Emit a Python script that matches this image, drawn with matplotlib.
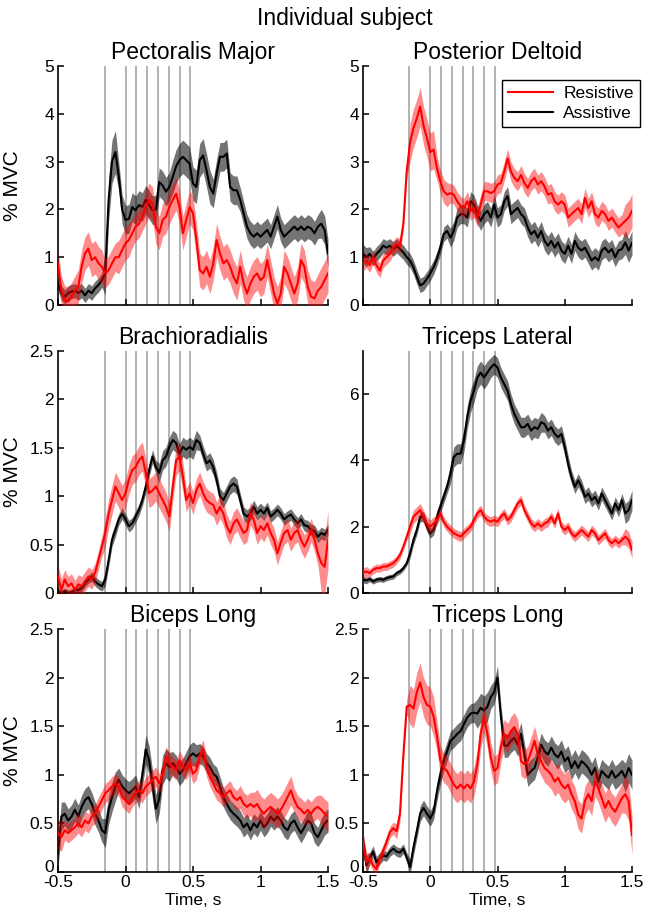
import numpy as np
import matplotlib
matplotlib.use("Agg")
import matplotlib.pyplot as plt
import matplotlib.transforms as mtransforms

plt.rcParams['font.family'] = ['Liberation Sans', 'DejaVu Sans']

# time axis (s), 0.025 s step
t = np.linspace(-0.5, 1.5, 81)

# event markers (s)
events = [-0.155, 0.0, 0.08, 0.16, 0.24, 0.32, 0.40, 0.48]

titles = ['Pectoralis Major', 'Posterior Deltoid', 'Brachioradialis',
          'Triceps Lateral', 'Biceps Long', 'Triceps Long']
ylims = [5, 5, 2.5, 7.3, 2.5, 2.5]
yticks = [[0, 1, 2, 3, 4, 5], [0, 1, 2, 3, 4, 5],
          [0, 0.5, 1, 1.5, 2, 2.5], [0, 2, 4, 6],
          [0, 0.5, 1, 1.5, 2, 2.5], [0, 0.5, 1, 1.5, 2, 2.5]]
xticks = [-0.5, 0, 0.5, 1, 1.5]

# mean %MVC, Assistive (black) and Resistive (red)
pec_black = [0.45, 0.25, 0.17, 0.25, 0.28, 0.3, 0.25, 0.3, 0.2, 0.3,
             0.25, 0.35, 0.42, 0.52, 0.66, 2.2, 3.0, 3.2, 2.7, 2.0,
             1.78, 1.8, 2.05, 1.98, 2.09, 2.05, 2.2, 2.1, 1.98, 2.0,
             2.57, 2.5, 2.37, 2.47, 2.68, 2.9, 3.03, 3.1, 3.03, 2.96,
             2.54, 2.47, 3.03, 3.13, 2.82, 2.47, 2.33, 2.75, 3.1, 3.1,
             3.17, 2.47, 2.4, 2.4, 2.2, 1.92, 1.64, 1.5, 1.43, 1.5,
             1.43, 1.5, 1.57, 1.43, 1.64, 1.85, 1.57, 1.43, 1.5, 1.57,
             1.64, 1.57, 1.64, 1.57, 1.64, 1.6, 1.5, 1.64, 1.7, 1.57,
             1.08]
pec_red = [0.87, 0.3, 0.1, 0.07, 0.17, 0.3, 0.38, 0.8, 1.08, 1.18,
           0.94, 1.0, 0.87, 0.8, 0.66, 0.73, 0.87, 1.0, 1.0, 1.15,
           1.29, 1.36, 1.5, 1.64, 1.7, 1.85, 2.05, 2.2, 2.12, 1.64,
           1.5, 1.78, 1.85, 2.05, 2.2, 2.33, 2.05, 1.5, 1.78, 2.05,
           1.92, 1.36, 0.73, 0.66, 0.8, 0.59, 0.87, 1.36, 1.08, 0.87,
           0.94, 0.8, 0.59, 0.45, 0.8, 0.45, 0.24, 0.45, 0.59, 0.66,
           0.52, 0.59, 0.94, 0.59, 0.24, 0.03, 0.24, 0.8, 0.66, 0.45,
           0.24, 0.45, 0.94, 0.8, 0.38, 0.17, 0.14, 0.3, 0.38, 0.52,
           0.66]
pd_black = [1.07, 1.0, 1.07, 0.97, 1.07, 1.14, 1.24, 1.2, 1.24, 1.17,
            1.24, 1.17, 1.1, 1.0, 0.93, 0.79, 0.59, 0.41, 0.45, 0.55,
            0.66, 0.79, 0.97, 1.2, 1.48, 1.55, 1.41, 1.55, 1.83, 1.9,
            1.9, 1.83, 2.17, 2.1, 1.9, 1.76, 1.9, 1.97, 1.83, 2.1,
            1.83, 1.9, 2.17, 2.28, 1.9, 1.97, 2.03, 1.9, 1.83, 1.62,
            1.48, 1.55, 1.41, 1.55, 1.34, 1.24, 1.34, 1.2, 1.31, 1.14,
            1.07, 1.24, 1.07, 1.34, 1.2, 1.14, 1.2, 1.07, 0.93, 1.0,
            0.93, 1.14, 1.2, 1.1, 1.17, 1.0, 1.14, 1.17, 1.31, 1.14,
            1.3]
pd_red = [0.86, 0.93, 0.83, 1.0, 0.83, 0.72, 0.93, 1.0, 1.07, 1.2,
          1.28, 1.24, 1.7, 2.8, 3.4, 3.7, 3.9, 4.15, 3.75, 3.5,
          3.2, 3.25, 2.86, 2.59, 2.38, 2.31, 2.34, 2.31, 2.17, 2.07,
          2.03, 2.17, 1.97, 2.03, 1.83, 2.1, 2.38, 2.38, 2.34, 2.38,
          2.52, 2.55, 2.79, 3.07, 2.79, 2.66, 2.59, 2.72, 2.55, 2.45,
          2.59, 2.66, 2.52, 2.59, 2.48, 2.31, 2.34, 2.17, 2.1, 2.17,
          2.1, 1.83, 1.9, 1.97, 2.03, 1.9, 2.24, 2.03, 2.17, 1.9,
          1.83, 1.97, 1.9, 1.76, 1.83, 1.72, 1.62, 1.69, 1.76, 1.83,
          1.97]
br_black = [0.02, 0.0, 0.02, 0.0, 0.01, 0.03, 0.03, 0.05, 0.1, 0.14,
            0.17, 0.12, 0.09, 0.07, 0.14, 0.34, 0.55, 0.65, 0.76, 0.82,
            0.76, 0.69, 0.72, 0.79, 0.86, 0.96, 1.1, 1.27, 1.41, 1.3,
            1.24, 1.37, 1.41, 1.51, 1.58, 1.55, 1.44, 1.51, 1.48, 1.51,
            1.48, 1.58, 1.55, 1.44, 1.34, 1.37, 1.3, 1.17, 1.0, 0.96,
            1.03, 1.1, 1.13, 1.1, 0.96, 0.82, 0.79, 0.82, 0.89, 0.82,
            0.86, 0.82, 0.88, 0.79, 0.82, 0.86, 0.82, 0.76, 0.79, 0.81,
            0.76, 0.72, 0.76, 0.7, 0.69, 0.65, 0.64, 0.58, 0.62, 0.6,
            0.65]
br_red = [0.17, 0.03, 0.14, 0.07, 0.1, 0.03, 0.09, 0.07, 0.12, 0.17,
          0.14, 0.21, 0.34, 0.48, 0.62, 0.82, 0.96, 1.1, 1.03, 0.96,
          1.03, 1.17, 1.27, 1.3, 1.37, 1.41, 1.24, 1.03, 1.06, 1.1,
          1.03, 0.96, 0.89, 0.79, 1.1, 1.37, 1.41, 1.2, 0.96, 1.03,
          0.93, 1.06, 1.13, 1.03, 0.96, 0.93, 0.91, 0.82, 0.89, 0.82,
          0.69, 0.62, 0.72, 0.76, 0.69, 0.62, 0.65, 0.82, 0.76, 0.62,
          0.69, 0.65, 0.72, 0.62, 0.55, 0.41, 0.52, 0.62, 0.65, 0.55,
          0.62, 0.65, 0.55, 0.48, 0.55, 0.65, 0.55, 0.41, 0.31, 0.27,
          0.55]
tl_black = [0.4, 0.38, 0.42, 0.35, 0.4, 0.42, 0.4, 0.45, 0.48, 0.5,
            0.6, 0.65, 0.75, 0.9, 1.2, 1.6, 1.9, 2.3, 2.3, 2.0,
            1.8, 1.9, 2.3, 2.6, 2.9, 3.2, 3.6, 4.1, 4.2, 4.2,
            4.6, 5.3, 5.8, 6.1, 6.5, 6.65, 6.5, 6.65, 6.8, 6.9,
            6.8, 6.5, 6.3, 6.1, 5.7, 5.4, 5.2, 5.0, 5.0, 5.1,
            4.9, 5.0, 4.95, 5.15, 5.1, 4.9, 5.0, 4.8, 4.7, 4.8,
            4.4, 3.9, 3.5, 3.2, 3.4, 3.2, 2.9, 3.0, 2.8, 2.9,
            2.7, 3.0, 2.8, 2.6, 2.4, 2.7, 2.5, 2.8, 2.4, 2.5,
            2.8]
tl_red = [0.6, 0.65, 0.6, 0.7, 0.75, 0.75, 0.8, 0.8, 0.85, 0.9,
          1.0, 1.15, 1.4, 1.7, 2.0, 2.3, 2.4, 2.5, 2.3, 2.1,
          2.0, 2.1, 2.2, 2.4, 2.15, 2.0, 1.9, 1.8, 1.75, 1.7,
          1.8, 1.9, 2.0, 2.2, 2.4, 2.5, 2.3, 2.2, 2.15, 2.2,
          2.15, 2.3, 2.4, 2.2, 2.3, 2.5, 2.7, 2.8, 2.5, 2.3,
          2.1, 2.0, 2.1, 2.0, 2.1, 2.15, 2.3, 2.1, 2.4, 2.0,
          1.9, 2.0, 1.8, 1.7, 1.8, 1.9, 1.8, 1.7, 1.9, 1.8,
          1.6, 1.7, 1.8, 1.6, 1.5, 1.6, 1.5, 1.6, 1.7, 1.6,
          1.3]
bl_black = [0.19, 0.57, 0.6, 0.53, 0.57, 0.64, 0.57, 0.67, 0.74, 0.77,
            0.7, 0.6, 0.53, 0.43, 0.4, 0.64, 0.77, 0.88, 0.95, 0.88,
            0.84, 0.81, 0.84, 0.88, 0.77, 1.0, 1.26, 1.15, 0.9, 0.65,
            0.75, 1.05, 1.12, 1.08, 1.12, 1.08, 1.01, 1.05, 1.12, 1.19,
            1.22, 1.19, 1.22, 1.19, 1.12, 1.08, 1.01, 0.98, 0.88, 0.77,
            0.7, 0.64, 0.6, 0.57, 0.53, 0.46, 0.5, 0.43, 0.5, 0.46,
            0.53, 0.46, 0.5, 0.57, 0.53, 0.57, 0.53, 0.46, 0.43, 0.5,
            0.53, 0.46, 0.4, 0.46, 0.53, 0.5, 0.4, 0.36, 0.43, 0.5,
            0.53]
bl_red = [0.4, 0.36, 0.43, 0.4, 0.43, 0.46, 0.5, 0.46, 0.53, 0.5,
          0.57, 0.6, 0.67, 0.74, 0.81, 0.84, 0.88, 0.91, 0.88, 0.77,
          0.74, 0.7, 0.77, 0.81, 0.84, 0.81, 0.88, 0.91, 0.95, 0.98,
          0.91, 1.01, 1.19, 1.12, 1.08, 1.05, 1.15, 1.08, 1.05, 1.12,
          1.01, 1.05, 1.19, 1.26, 1.08, 0.98, 0.91, 0.84, 0.81, 0.77,
          0.81, 0.84, 0.77, 0.74, 0.77, 0.7, 0.67, 0.7, 0.67, 0.7,
          0.64, 0.6, 0.64, 0.67, 0.64, 0.6, 0.64, 0.7, 0.77, 0.84,
          0.74, 0.67, 0.64, 0.6, 0.64, 0.6, 0.65, 0.67, 0.64, 0.6,
          0.57]
tlo_black = [0.31, 0.07, 0.14, 0.21, 0.1, 0.14, 0.17, 0.16, 0.21, 0.24,
             0.21, 0.2, 0.24, 0.15, 0.05, 0.25, 0.42, 0.6, 0.66, 0.6,
             0.55, 0.62, 0.83, 1.0, 1.14, 1.24, 1.35, 1.38, 1.42, 1.45,
             1.52, 1.59, 1.63, 1.64, 1.63, 1.69, 1.66, 1.7, 1.8, 1.85,
             2.0, 1.6, 1.3, 1.3, 1.35, 1.38, 1.31, 1.42, 1.21, 1.0,
             1.04, 1.07, 1.18, 1.31, 1.24, 1.21, 1.28, 1.21, 1.18, 1.24,
             1.14, 1.18, 1.07, 1.14, 1.07, 1.14, 1.11, 1.07, 1.0, 1.07,
             0.93, 1.04, 1.0, 0.97, 1.04, 0.97, 1.0, 1.04, 0.97, 1.07,
             1.0]
tlo_red = [0.31, 0.1, 0.14, 0.07, 0.03, 0.14, 0.22, 0.31, 0.41, 0.45,
           0.42, 0.6, 1.2, 1.7, 1.72, 1.68, 1.85, 1.95, 1.8, 1.72,
           1.7, 1.6, 1.4, 1.15, 1.07, 1.04, 0.97, 0.9, 0.86, 0.9,
           0.86, 0.9, 0.86, 0.93, 1.11, 1.42, 1.59, 1.42, 1.18, 1.04,
           1.07, 1.28, 1.42, 1.38, 1.45, 1.49, 1.42, 1.14, 1.11, 1.14,
           1.24, 1.35, 1.21, 1.14, 1.07, 1.04, 1.0, 0.93, 0.97, 0.9,
           0.86, 0.9, 0.8, 0.73, 0.59, 0.55, 0.73, 0.8, 0.73, 0.93,
           0.86, 0.76, 0.66, 0.73, 0.66, 0.62, 0.69, 0.76, 0.8, 0.73,
           0.38]

# standard-error half widths, one value per 0.1 s
pec_black_se = [0.15, 0.15, 0.15, 0.15, 0.45, 0.3, 0.3, 0.3, 0.3, 0.35, 0.35,
                0.35, 0.3, 0.3, 0.25, 0.25, 0.25, 0.25, 0.25, 0.25, 0.3]
pec_red_se = [0.3, 0.3, 0.35, 0.35, 0.3, 0.35, 0.3, 0.35, 0.35, 0.35, 0.35,
              0.35, 0.35, 0.35, 0.35, 0.35, 0.35, 0.35, 0.35, 0.35, 0.4]
pd_black_se = [0.2, 0.15, 0.15, 0.15, 0.15, 0.15, 0.15, 0.2, 0.2, 0.2, 0.2,
               0.2, 0.2, 0.2, 0.2, 0.2, 0.2, 0.2, 0.2, 0.2, 0.25]
pd_red_se = [0.15, 0.15, 0.15, 0.15, 0.4, 0.4, 0.25, 0.2, 0.2, 0.2, 0.2,
             0.2, 0.2, 0.2, 0.2, 0.2, 0.2, 0.2, 0.2, 0.2, 0.35]
br_black_se = [0.03, 0.03, 0.04, 0.05, 0.07, 0.06, 0.06, 0.07, 0.1, 0.1, 0.1,
               0.08, 0.08, 0.08, 0.07, 0.07, 0.06, 0.06, 0.06, 0.06, 0.06]
br_red_se = [0.12, 0.1, 0.1, 0.1, 0.15, 0.15, 0.15, 0.15, 0.15, 0.15, 0.12,
             0.12, 0.12, 0.12, 0.12, 0.12, 0.12, 0.12, 0.12, 0.12, 0.3]
tl_black_se = [0.1, 0.08, 0.08, 0.08, 0.15, 0.15, 0.2, 0.3, 0.35, 0.35, 0.3,
               0.3, 0.3, 0.3, 0.25, 0.25, 0.2, 0.2, 0.2, 0.2, 0.3]
tl_red_se = [0.15, 0.12, 0.12, 0.12, 0.2, 0.2, 0.15, 0.15, 0.15, 0.15, 0.15,
             0.15, 0.15, 0.15, 0.15, 0.15, 0.15, 0.15, 0.15, 0.15, 0.25]
bl_black_se = [0.15, 0.12, 0.12, 0.12, 0.15, 0.12, 0.12, 0.15, 0.15, 0.12, 0.12,
               0.1, 0.1, 0.1, 0.1, 0.1, 0.1, 0.1, 0.1, 0.1, 0.12]
bl_red_se = [0.15, 0.1, 0.1, 0.1, 0.1, 0.1, 0.1, 0.1, 0.1, 0.1, 0.1,
             0.1, 0.1, 0.1, 0.12, 0.15, 0.15, 0.15, 0.12, 0.12, 0.15]
tlo_black_se = [0.1, 0.06, 0.05, 0.05, 0.08, 0.08, 0.1, 0.1, 0.1, 0.15, 0.12,
                0.12, 0.12, 0.12, 0.12, 0.12, 0.12, 0.12, 0.12, 0.12, 0.15]
tlo_red_se = [0.1, 0.06, 0.06, 0.08, 0.2, 0.2, 0.15, 0.15, 0.15, 0.15, 0.15,
              0.15, 0.15, 0.15, 0.15, 0.15, 0.15, 0.15, 0.15, 0.15, 0.2]

black_series = [pec_black, pd_black, br_black, tl_black, bl_black, tlo_black]
red_series = [pec_red, pd_red, br_red, tl_red, bl_red, tlo_red]
black_se = [pec_black_se, pd_black_se, br_black_se, tl_black_se, bl_black_se, tlo_black_se]
red_se = [pec_red_se, pd_red_se, br_red_se, tl_red_se, bl_red_se, tlo_red_se]


def se_on_grid(se):
    # each 0.1 s value covers the 4 nearest samples
    return np.repeat(np.array(se), 4)[2:83]


W, H = 645, 909
fig = plt.figure(figsize=(W / 100, H / 100), dpi=100)

col_x = [(58, 328), (363, 632)]
row_y = [(66, 305), (351, 593), (629, 872)]

fig.text(345 / W, 1 - 18 / H, 'Individual subject', ha='center', va='center', fontsize=16.5)

for i in range(6):
    r, c = divmod(i, 2)
    x0, x1 = col_x[c]
    y0, y1 = row_y[r]
    ax = fig.add_axes([x0 / W, 1 - y1 / H, (x1 - x0) / W, (y1 - y0) / H])

    for e in events:
        ax.axvline(e, color='#a6a6a6', lw=1.2, zorder=1)

    yb = np.array(black_series[i])
    yr = np.array(red_series[i])
    sb = se_on_grid(black_se[i])
    sr = se_on_grid(red_se[i])

    ax.fill_between(t, yb - sb, yb + sb, color='black', alpha=0.55, lw=0, zorder=2)
    lb, = ax.plot(t, yb, color='black', lw=1.5, zorder=3, label='Assistive')
    ax.fill_between(t, yr - sr, yr + sr, color='red', alpha=0.45, lw=0, zorder=4)
    lr, = ax.plot(t, yr, color='red', lw=1.5, zorder=5, label='Resistive')

    ax.set_xlim(-0.5, 1.5)
    ax.set_ylim(0, ylims[i])
    ax.set_yticks(yticks[i])
    ax.set_yticklabels(['%g' % v for v in yticks[i]])
    ax.set_xticks(xticks)
    if r == 2:
        ax.set_xticklabels(['%g' % v for v in xticks])
        ax.set_xlabel('Time, s', fontsize=12.5)
        ax.xaxis.set_label_coords(0.5, (y1 - 893) / (y1 - y0))
    else:
        ax.set_xticklabels([])
    if c == 0:
        ax.set_ylabel('% MVC', fontsize=15)
        ax.yaxis.set_label_coords((22 - x0) / (x1 - x0), 0.5)

    for s in ['top', 'right']:
        ax.spines[s].set_visible(False)
    for s in ['left', 'bottom']:
        ax.spines[s].set_linewidth(1.2)
    ax.tick_params(direction='in', length=4, width=1.1, labelsize=12.5)
    ax.tick_params(axis='y', pad=3)
    ax.tick_params(axis='x', pad=2.5)
    ax.set_title(titles[i], fontsize=16.5, pad=5)

    if r == 2:
        # lift the y "0" label a little so it clears the x tick labels
        lift = mtransforms.ScaledTranslation(0, 4 / 72, fig.dpi_scale_trans)
        zero_lbl = ax.get_yticklabels()[0]
        zero_lbl.set_transform(zero_lbl.get_transform() + lift)

    if i == 1:
        ax.legend(handles=[lr, lb], loc='upper right',
                  bbox_to_anchor=(640 / W, 1 - 80 / H), bbox_transform=fig.transFigure,
                  fancybox=False, framealpha=1, edgecolor='black', fontsize=12.5,
                  handlelength=2.6, borderpad=0.35, labelspacing=0.25,
                  handletextpad=0.6, borderaxespad=0)

fig.savefig('out.png', dpi=100)
